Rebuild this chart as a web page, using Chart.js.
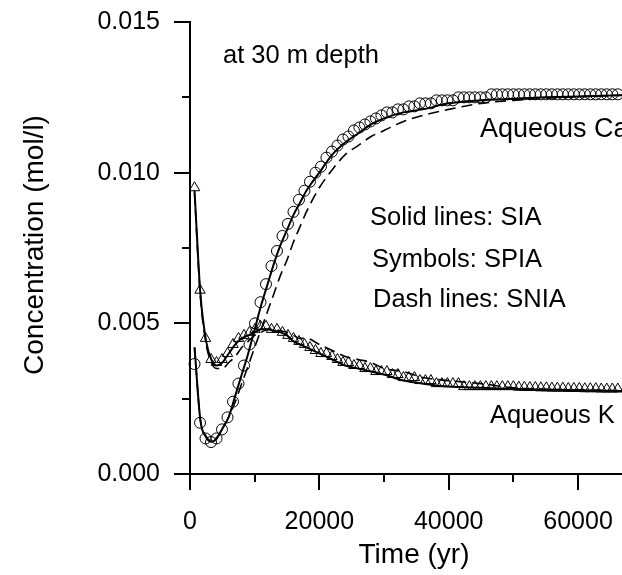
<!DOCTYPE html>
<html>
<head>
<meta charset="utf-8">
<script src="https://cdn.jsdelivr.net/npm/chart.js@4/dist/chart.umd.min.js"></script>
<style>
  html, body { margin: 0; padding: 0; background: #fff; }
  #wrap { width: 622px; height: 575px; }
</style>
</head>
<body>
<div id="wrap"><canvas id="chart"></canvas></div>
<script>
// time ticks (yr) and concentration ticks (mol/l)
const xTickValues = [0, 10000, 20000, 30000, 40000, 50000, 60000];
const yTickValues = [0, 0.0025, 0.005, 0.0075, 0.01, 0.0125, 0.015];

// times of the line outputs (SIA / SNIA)
const lineTimes = [700, 1600, 2500, 3300, 4100, 5000, 6000, 7000, 8000, 9000, 10000,
  11000, 12000, 13000, 14000, 15000, 16000, 17000, 18000, 20000, 22000, 24000, 26000,
  28000, 30000, 33000, 36000, 40000, 45000, 50000, 55000, 60000, 67000];

// aqueous Ca
const caSIA = [0.0042, 0.0018, 0.00122, 0.00107, 0.00117, 0.0015, 0.0019, 0.0026, 0.0033, 0.0040, 0.0048,
  0.0056, 0.0063, 0.0070, 0.0076, 0.0081, 0.0086, 0.0090, 0.0094, 0.0100, 0.0106, 0.0110, 0.0113,
  0.0116, 0.0118, 0.0120, 0.0121, 0.0123, 0.0124, 0.01245, 0.0125, 0.01253, 0.01257];
const caSNIA = [0.0042, 0.0018, 0.00125, 0.0011, 0.0012, 0.0015, 0.0019, 0.0024, 0.0030, 0.0036, 0.0042,
  0.0048, 0.0054, 0.0060, 0.0066, 0.0071, 0.0077, 0.0082, 0.0087, 0.0095, 0.0101, 0.0106, 0.0109,
  0.0112, 0.0114, 0.0117, 0.0119, 0.0121, 0.0123, 0.0124, 0.01247, 0.01252, 0.01257];

// aqueous K
const kSIA = [0.0094, 0.0060, 0.0044, 0.0038, 0.0036, 0.0037, 0.0040, 0.0043, 0.0045, 0.0046, 0.0047,
  0.0048, 0.0048, 0.00475, 0.0047, 0.0046, 0.0044, 0.0043, 0.0042, 0.0040, 0.0038, 0.0036, 0.0035,
  0.0034, 0.0033, 0.0031, 0.0030, 0.0029, 0.00286, 0.00282, 0.0028, 0.00278, 0.00275];
const kSNIA = [0.0093, 0.0059, 0.0043, 0.0037, 0.0035, 0.0035, 0.0037, 0.0039, 0.0042, 0.0044, 0.0046,
  0.0047, 0.0048, 0.0048, 0.00475, 0.0047, 0.0046, 0.0045, 0.0045, 0.0043, 0.0041, 0.0039, 0.0038,
  0.0037, 0.0035, 0.0034, 0.0032, 0.0031, 0.0030, 0.00286, 0.00281, 0.00279, 0.00276];

// times of the symbol outputs (SPIA)
const markerTimes = [700, 1550, 2400, 3250, 4100, 4950, 5800, 6650, 7500, 8350, 9200, 10050,
  10900, 11750, 12600, 13450, 14300, 15150, 16000, 16850, 17700, 18550, 19400, 20250, 21100,
  21950, 22800, 23650, 24500, 25350, 26200, 27050, 27900, 28750, 29600, 30450, 31300, 32150,
  33000, 33850, 34700, 35550, 36400, 37250, 38100, 38950, 39800, 40650, 41500, 42350, 43200,
  44050, 44900, 45750, 46600, 47450, 48300, 49150, 50000, 50850, 51700, 52550, 53400, 54250,
  55100, 55950, 56800, 57650, 58500, 59350, 60200, 61050, 61900, 62750, 63600, 64450, 65300, 66150];

const caSPIA = [0.00365, 0.0017, 0.00118, 0.00106, 0.00118, 0.00148, 0.00188, 0.0024, 0.0030, 0.0036,
  0.0043, 0.0050, 0.0057, 0.0063, 0.0069, 0.0074, 0.0079, 0.0083, 0.0087, 0.0091, 0.0094, 0.0097,
  0.0100, 0.0102, 0.0105, 0.0107, 0.0109, 0.0111, 0.0112, 0.0114, 0.0115, 0.0116, 0.0117, 0.0118,
  0.0119, 0.0120, 0.0120, 0.0121, 0.0121, 0.0122, 0.0122, 0.0123, 0.0123, 0.0123, 0.0124, 0.0124,
  0.0124, 0.0124, 0.0125, 0.0125, 0.0125, 0.0125, 0.0125, 0.0125, 0.0126, 0.0126, 0.0126, 0.0126,
  0.0126, 0.0126, 0.0126, 0.0126, 0.0126, 0.0126, 0.0126, 0.0126, 0.0126, 0.0126, 0.0126, 0.0126,
  0.0126, 0.0126, 0.0126, 0.0126, 0.0126, 0.0126, 0.0126, 0.0126];
const kSPIA = [0.0095, 0.0061, 0.0045, 0.0038, 0.0037, 0.0038, 0.0040, 0.0043, 0.0045, 0.0046,
  0.0047, 0.0048, 0.0049, 0.0049, 0.0048, 0.0048, 0.0047, 0.0046, 0.0045, 0.0044, 0.0043, 0.0042,
  0.0041, 0.0040, 0.0040, 0.0039, 0.0038, 0.0037, 0.0037, 0.0036, 0.0036, 0.0035, 0.0035, 0.0034,
  0.0034, 0.0034, 0.0033, 0.0033, 0.0032, 0.0032, 0.0032, 0.0031, 0.0031, 0.0031, 0.0030, 0.0030,
  0.0030, 0.0030, 0.0030, 0.0029, 0.0029, 0.0029, 0.0029, 0.0029, 0.0029, 0.0029, 0.0029, 0.0029,
  0.0029, 0.00288, 0.00288, 0.00287, 0.00287, 0.00286, 0.00286, 0.00285, 0.00285, 0.00285, 0.00284,
  0.00284, 0.00284, 0.00283, 0.00283, 0.00283, 0.00282, 0.00282, 0.00282, 0.00282];

const FONT = 'Arial, "Liberation Sans", sans-serif';

function pts(xs, ys) {
  return xs.map((x, i) => ({ x: x, y: ys[i] }));
}

// draws the tick marks (long for labelled ones, short for the rest) and the free texts
const decorations = {
  id: 'decorations',
  afterDraw(chart) {
    const ctx = chart.ctx;
    const xs = chart.scales.x, ys = chart.scales.y;
    const area = chart.chartArea;
    ctx.save();
    ctx.strokeStyle = '#000';
    ctx.lineWidth = 2;
    ctx.beginPath();
    xTickValues.forEach(v => {
      const px = Math.round(xs.getPixelForValue(v));
      const len = v % 20000 === 0 ? 16 : 8;
      ctx.moveTo(px, area.bottom);
      ctx.lineTo(px, area.bottom + len);
    });
    yTickValues.forEach(v => {
      const py = Math.round(ys.getPixelForValue(v));
      const len = Math.round(v * 10000) % 50 === 0 ? 16 : 8;
      ctx.moveTo(area.left, py);
      ctx.lineTo(area.left - len, py);
    });
    ctx.stroke();

    ctx.fillStyle = '#000';
    ctx.textBaseline = 'alphabetic';
    ctx.textAlign = 'left';
    ctx.font = '25.5px ' + FONT;
    ctx.fillText('at 30 m depth', 223, 63);
    ctx.fillText('Solid lines: SIA', 370, 225);
    ctx.fillText('Symbols: SPIA', 372, 267);
    ctx.fillText('Dash lines: SNIA', 373, 307);
    ctx.fillText('Aqueous K', 490, 423);
    ctx.font = '27px ' + FONT;
    ctx.fillText('Aqueous Ca', 480, 137);

    ctx.font = '28px ' + FONT;
    ctx.textAlign = 'center';
    ctx.fillText('Time (yr)', 414, 563);
    ctx.translate(43, 245);
    ctx.rotate(-Math.PI / 2);
    ctx.fillText('Concentration (mol/l)', 0, 0);
    ctx.restore();
  }
};

const ctx = document.getElementById('chart').getContext('2d');
const chart = new Chart(ctx, {
  type: 'line',
  data: {
    datasets: [
      {
        label: 'Ca SIA',
        data: pts(lineTimes, caSIA),
        borderColor: '#000', borderWidth: 2,
        pointRadius: 0, cubicInterpolationMode: 'monotone'
      },
      {
        label: 'Ca SNIA',
        data: pts(lineTimes, caSNIA),
        borderColor: '#000', borderWidth: 1.6, borderDash: [11, 6],
        pointRadius: 0, cubicInterpolationMode: 'monotone'
      },
      {
        label: 'Ca SPIA',
        data: pts(markerTimes, caSPIA),
        showLine: false, clip: false,
        pointStyle: 'circle', pointRadius: 5.5,
        pointBorderColor: '#000', pointBorderWidth: 1, pointBackgroundColor: 'rgba(0,0,0,0)'
      },
      {
        label: 'K SIA',
        data: pts(lineTimes, kSIA),
        borderColor: '#000', borderWidth: 2,
        pointRadius: 0, cubicInterpolationMode: 'monotone'
      },
      {
        label: 'K SNIA',
        data: pts(lineTimes, kSNIA),
        borderColor: '#000', borderWidth: 1.6, borderDash: [11, 6],
        pointRadius: 0, cubicInterpolationMode: 'monotone'
      },
      {
        label: 'K SPIA',
        data: pts(markerTimes, kSPIA),
        showLine: false, clip: false,
        pointStyle: 'triangle', pointRadius: 6,
        pointBorderColor: '#000', pointBorderWidth: 1, pointBackgroundColor: 'rgba(0,0,0,0)'
      }
    ]
  },
  options: {
    responsive: true,
    maintainAspectRatio: false,
    animation: false,
    events: [],
    layout: { padding: 0, autoPadding: false },
    plugins: { legend: { display: false }, tooltip: { enabled: false } },
    scales: {
      x: {
        type: 'linear',
        min: 0,
        max: 66800,
        afterBuildTicks: (scale) => { scale.ticks = xTickValues.map(v => ({ value: v })); },
        afterFit: (scale) => {
          scale.height = 101;
          scale.paddingLeft = 0;
          scale.paddingRight = 0;
        },
        ticks: {
          autoSkip: false, maxRotation: 0, padding: 33,
          color: '#000', font: { size: 25, family: FONT },
          callback: (v) => (v % 20000 === 0 ? String(v) : '')
        },
        grid: { display: true, drawOnChartArea: false, drawTicks: false },
        border: { display: true, color: '#000', width: 2 }
      },
      y: {
        type: 'linear',
        min: 0,
        max: 0.015,
        afterBuildTicks: (scale) => { scale.ticks = yTickValues.map(v => ({ value: v })); },
        afterFit: (scale) => {
          scale.width = 190;
          scale.paddingTop = 22;
          scale.paddingBottom = 0;
        },
        ticks: {
          autoSkip: false, padding: 30,
          color: '#000', font: { size: 25, family: FONT },
          callback: (v) => (Math.round(v * 10000) % 50 === 0 ? v.toFixed(3) : '')
        },
        grid: { display: true, drawOnChartArea: false, drawTicks: false },
        border: { display: true, color: '#000', width: 2 }
      }
    }
  },
  plugins: [decorations]
});
</script>
</body>
</html>
